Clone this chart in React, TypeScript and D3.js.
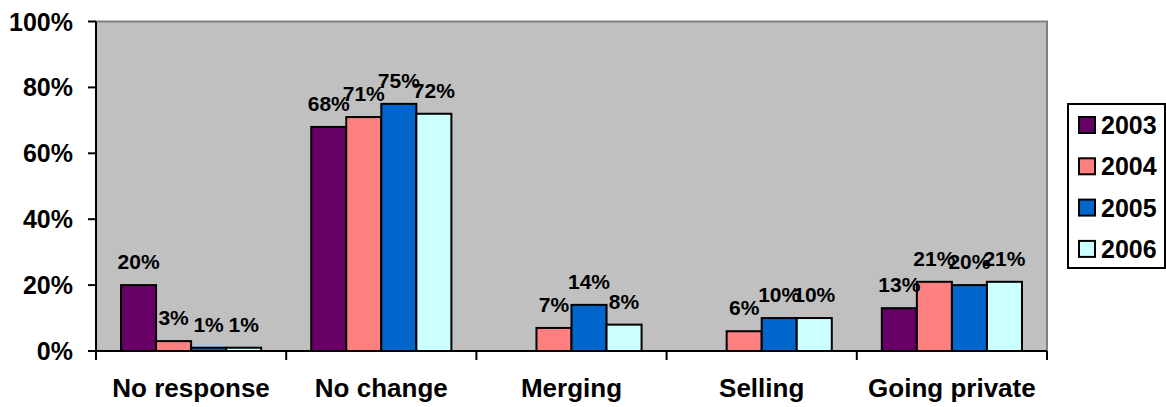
import React from "react";
import * as d3 from "d3";

const categories = ["No response", "No change", "Merging", "Selling", "Going private"];
const seriesNames = ["2003", "2004", "2005", "2006"];
const values2003 = [20, 68, 0, 0, 13];
const values2004 = [3, 71, 7, 6, 21];
const values2005 = [1, 75, 14, 10, 20];
const values2006 = [1, 72, 8, 10, 21];
const yTicks = [0, 20, 40, 60, 80, 100];
const colors = ["#660066", "#FF8080", "#0066CC", "#CCFFFF"];

const W = 1166;
const H = 407;
const plot = { left: 96, right: 1047, top: 21.5, bottom: 351 };
const FONT = "Arial, 'Liberation Sans', sans-serif";

export default function App() {
  const series = [values2003, values2004, values2005, values2006];
  const x0 = d3.scaleBand<string>().domain(categories).range([plot.left, plot.right]).paddingInner(0).paddingOuter(0);
  const x1 = d3.scaleBand<string>().domain(seriesNames).range([0, x0.bandwidth()]).paddingOuter(0.714).paddingInner(0);
  const y = d3.scaleLinear().domain([0, 100]).range([plot.bottom, plot.top]);

  const boundaries = categories.map((c) => x0(c) as number).concat([plot.right]);

  const legend = { x: 1068, y: 104, w: 97, h: 164 };

  return (
    <svg width={W} height={H} style={{ position: "absolute", left: 0, top: 0 }} fontFamily={FONT}>
      <rect x={0} y={0} width={W} height={H} fill="#fff" />
      <rect
        x={plot.left}
        y={plot.top}
        width={plot.right - plot.left}
        height={plot.bottom - plot.top}
        fill="#C0C0C0"
        stroke="#808080"
        strokeWidth={2}
      />
      {categories.map((c, ci) =>
        series.map((vals, si) => {
          const v = vals[ci];
          if (v <= 0) return null;
          const bx = (x0(c) as number) + (x1(seriesNames[si]) as number);
          const bw = x1.bandwidth();
          return (
            <rect
              key={`b-${ci}-${si}`}
              x={bx}
              y={y(v)}
              width={bw}
              height={y(0) - y(v)}
              fill={colors[si]}
              stroke="#000"
              strokeWidth={2}
            />
          );
        })
      )}
      <line x1={plot.left} x2={plot.left} y1={plot.top} y2={plot.bottom} stroke="#000" strokeWidth={2} />
      <line x1={plot.left} x2={plot.right} y1={plot.bottom} y2={plot.bottom} stroke="#000" strokeWidth={2} />
      {yTicks.map((t) => (
        <g key={`yt-${t}`}>
          <line x1={plot.left - 8} x2={plot.left} y1={y(t)} y2={y(t)} stroke="#000" strokeWidth={2} />
          <text x={73} y={y(t)} dy="0.36em" textAnchor="end" fontSize={25} fontWeight="bold" fill="#000">
            {t}%
          </text>
        </g>
      ))}
      {boundaries.map((bx, i) => (
        <line key={`xt-${i}`} x1={bx} x2={bx} y1={plot.bottom} y2={plot.bottom + 9} stroke="#000" strokeWidth={2} />
      ))}
      {categories.map((c) => (
        <text
          key={`xl-${c}`}
          x={(x0(c) as number) + x0.bandwidth() / 2}
          y={397}
          textAnchor="middle"
          fontSize={26}
          fontWeight="bold"
          fill="#000"
        >
          {c}
        </text>
      ))}
      {categories.map((c, ci) =>
        series.map((vals, si) => {
          const v = vals[ci];
          if (v <= 0) return null;
          const cx = (x0(c) as number) + (x1(seriesNames[si]) as number) + x1.bandwidth() / 2;
          return (
            <text
              key={`l-${ci}-${si}`}
              x={cx}
              y={y(v) - 16}
              textAnchor="middle"
              fontSize={21}
              fontWeight="bold"
              fill="#000"
            >
              {v}%
            </text>
          );
        })
      )}
      <rect x={legend.x} y={legend.y} width={legend.w} height={legend.h} fill="#fff" stroke="#000" strokeWidth={2} />
      {seriesNames.map((s, i) => {
        const cy = 125 + i * 41.3;
        return (
          <g key={`lg-${s}`}>
            <rect x={1079} y={cy - 8} width={16} height={16} fill={colors[i]} stroke="#000" strokeWidth={2} />
            <text x={1101} y={cy} dy="0.36em" fontSize={25} fontWeight="bold" fill="#000">
              {s}
            </text>
          </g>
        );
      })}
    </svg>
  );
}
